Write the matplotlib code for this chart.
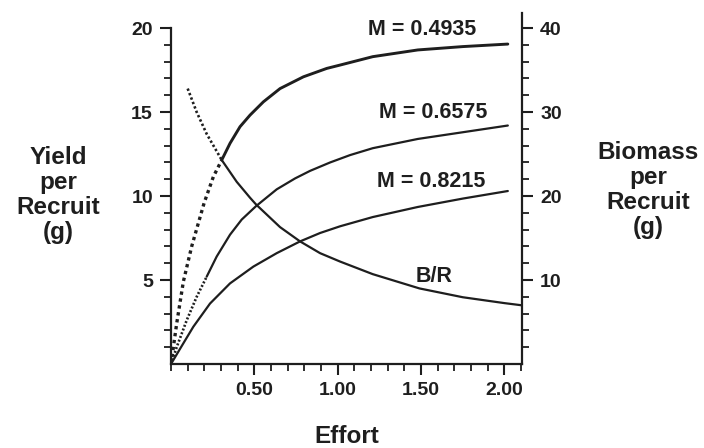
import matplotlib
matplotlib.use("Agg")
import matplotlib.pyplot as plt
from matplotlib.ticker import MultipleLocator, FixedLocator

plt.rcParams['font.family'] = ['Liberation Sans', 'DejaVu Sans']
plt.rcParams['font.weight'] = 'bold'

# ---- data ----
effort_m1 = [0, 0.034, 0.074, 0.124, 0.199, 0.254, 0.304, 0.354, 0.414, 0.474, 0.554, 0.654,
             0.794, 0.934, 1.014, 1.21, 1.48, 1.75, 2.02]
yield_m1 = [0, 2.4, 4.9, 7.0, 9.6, 11.15, 12.14, 13.14, 14.13, 14.82, 15.61, 16.4,
            17.1, 17.6, 17.8, 18.3, 18.7, 18.9, 19.05]

effort_m2 = [0, 0.034, 0.094, 0.154, 0.214, 0.274, 0.354, 0.424, 0.51, 0.634, 0.744, 0.834,
             0.954, 1.074, 1.21, 1.48, 1.75, 2.02]
yield_m2 = [0, 1.0, 2.6, 4.0, 5.2, 6.4, 7.7, 8.6, 9.4, 10.4, 11.05, 11.5,
            12.0, 12.44, 12.85, 13.4, 13.8, 14.2]

effort_m3 = [0, 0.054, 0.134, 0.234, 0.354, 0.494, 0.634, 0.774, 0.894, 1.014, 1.21, 1.48, 1.75, 2.02]
yield_m3 = [0, 0.9, 2.22, 3.6, 4.8, 5.8, 6.6, 7.3, 7.8, 8.2, 8.75, 9.35, 9.85, 10.3]

effort_br = [0.100, 0.154, 0.214, 0.304, 0.394, 0.474, 0.51, 0.654, 0.774, 0.894, 1.014, 1.21,
             1.49, 1.75, 2.0, 2.1]
biomass_br = [32.8, 30.0, 27.4, 24.3, 21.7, 19.8, 19.0, 16.3, 14.6, 13.2, 12.2, 10.7,
              9.0, 7.95, 7.25, 7.0]

curve_labels = ["M = 0.4935", "M = 0.6575", "M = 0.8215"]
br_label = "B/R"
x_ticks = [0.5, 1.0, 1.5, 2.0]
x_ticklabels = ["0.50", "1.00", "1.50", "2.00"]
left_ticks = [5, 10, 15, 20]
right_ticks = [10, 20, 30, 40]

# dotted segment cut-offs (style)
dot_cut = {"m1": 0.304, "m2": 0.214, "br": 0.304}

col = '#1e1e1e'
fig = plt.figure(figsize=(7.04, 4.48), dpi=100)
ax = fig.add_axes([171/704, 1 - 364/448, (522-171)/704, (364-13)/448])
ax2 = ax.twinx()

def split_plot(a, xs, ys, cut, lw, dotstyle, dlw):
    i = max(k for k, v in enumerate(xs) if v <= cut)
    a.plot(xs[:i+1], ys[:i+1], color=col, lw=dlw, linestyle=dotstyle,
           solid_capstyle='butt', dash_capstyle='butt')
    a.plot(xs[i:], ys[i:], color=col, lw=lw, solid_capstyle='round', solid_joinstyle='round')

split_plot(ax, effort_m1, yield_m1, dot_cut["m1"], 2.1, (0, (1, 1.1)), 2.4)
split_plot(ax, effort_m2, yield_m2, dot_cut["m2"], 1.6, (0, (0.75, 0.75)), 1.9)
ax.plot(effort_m3, yield_m3, color=col, lw=1.6, solid_capstyle='round', solid_joinstyle='round')
split_plot(ax2, effort_br, biomass_br, dot_cut["br"], 1.6, (0, (0.9, 0.9)), 1.9)

ax.set_xlim(0, 2.105)
ax.set_ylim(0, 20.9)
ax2.set_ylim(0, 41.8)

for a in (ax, ax2):
    a.spines['top'].set_visible(False)
    for s in a.spines.values():
        s.set_linewidth(1.6)
        s.set_color(col)
ax.spines['right'].set_visible(False)
ax2.spines['left'].set_visible(False)
ax2.spines['bottom'].set_visible(False)
ax.spines['left'].set_bounds(0, 20)

ax.xaxis.set_major_locator(FixedLocator(x_ticks))
ax.set_xticklabels(x_ticklabels)
ax.xaxis.set_minor_locator(MultipleLocator(0.1))
ax.yaxis.set_major_locator(FixedLocator(left_ticks))
ax.yaxis.set_minor_locator(FixedLocator(list(range(1, 21))))
ax2.yaxis.set_major_locator(FixedLocator(right_ticks))
ax2.yaxis.set_minor_locator(FixedLocator(list(range(2, 41, 2))))

ax.tick_params(axis='both', which='major', length=8, width=1.5, color=col, labelsize=14, pad=5, labelcolor=col)
ax.tick_params(axis='both', which='minor', length=5, width=1.3, color=col)
ax2.tick_params(axis='y', which='major', length=8, width=1.5, color=col, labelsize=14, pad=5, labelcolor=col)
ax2.tick_params(axis='y', which='minor', length=5, width=1.3, color=col)

for t in ax.get_xticklabels() + ax.get_yticklabels() + ax2.get_yticklabels():
    t.set_fontweight('bold')

# curve labels
lab_pos = [(1.506, 19.58), (1.575, 14.64), (1.563, 10.54)]
for (x, y), s in zip(lab_pos, curve_labels):
    ax.text(x, y, s, ha='center', va='baseline', fontsize=15.5, fontweight='bold', color=col)
ax.text(1.58, 4.88, br_label, ha='center', va='baseline', fontsize=15.5, fontweight='bold', color=col)

fig.text(58/704, 1 - 195/448, "Yield\nper\nRecruit\n(g)", ha='center', va='center',
         fontsize=17.5, fontweight='bold', color=col, linespacing=1.12)
fig.text(648/704, 1 - 190/448, "Biomass\nper\nRecruit\n(g)", ha='center', va='center',
         fontsize=17.5, fontweight='bold', color=col, linespacing=1.12)
fig.text(347/704, 1 - 436/448, "Effort", ha='center', va='center',
         fontsize=17.5, fontweight='bold', color=col)

fig.savefig("out.png", dpi=100)
